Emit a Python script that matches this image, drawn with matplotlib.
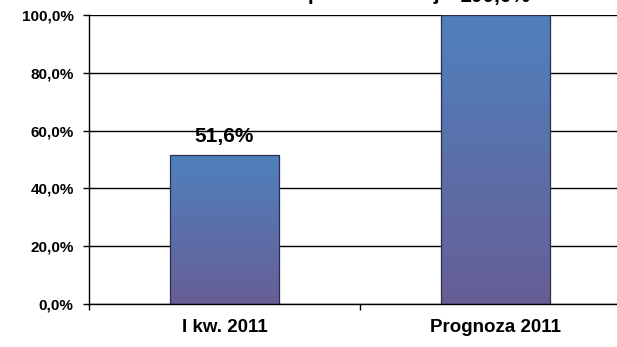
import matplotlib

matplotlib.use("Agg")

import matplotlib.pyplot as plt
import numpy as np
from matplotlib.colors import LinearSegmentedColormap

plt.rcParams["font.family"] = ["Liberation Sans", "DejaVu Sans"]
plt.rcParams["font.weight"] = "bold"

categories = ["I kw. 2011", "Prognoza 2011"]
values = [51.6, 100.0]
value_labels = ["51,6%", "100,0%"]
y_ticks = [0, 20, 40, 60, 80, 100]
y_tick_labels = ["0,0%", "20,0%", "40,0%", "60,0%", "80,0%", "100,0%"]
title = "Stopień realizacji"

TOP_COLOR = "#4F81BD"
BOTTOM_COLOR = "#675E96"
EDGE_COLOR = "#2B2F4E"

fig = plt.figure(figsize=(6.17, 3.47), dpi=100)
ax = fig.add_axes([89 / 617, 43 / 347, 542 / 617, 289 / 347])

x = np.arange(len(categories))
bars = ax.bar(x, values, width=0.40, color="none", edgecolor=EDGE_COLOR, linewidth=0.9, zorder=3)

cmap = LinearSegmentedColormap.from_list("bar_grad", [BOTTOM_COLOR, TOP_COLOR])
gradient = np.linspace(0, 1, 256).reshape(-1, 1)
for bar in bars:
    x0 = bar.get_x()
    x1 = x0 + bar.get_width()
    h = bar.get_height()
    im = ax.imshow(gradient, cmap=cmap, origin="lower", aspect="auto",
                   extent=[x0, x1, 0, h], zorder=2)
    im.set_clip_path(bar)

for xi, v, lab in zip(x, values, value_labels):
    ax.annotate(lab, (xi, v), xytext=(0, 6.5), textcoords="offset points",
                ha="center", va="bottom", fontsize=15, fontweight="bold")

ax.set_xlim(-0.5, 1.5)
ax.set_ylim(0, 100)

ax.set_yticks(y_ticks)
ax.set_yticklabels(y_tick_labels)
ax.tick_params(axis="y", direction="out", length=4, width=1, pad=7, labelsize=11)

ax.set_xticks([-0.5, 0.5, 1.5])
ax.set_xticklabels([])
ax.tick_params(axis="x", which="major", direction="out", length=4, width=1)
ax.set_xticks(x, minor=True)
ax.set_xticklabels(categories, minor=True)
ax.tick_params(axis="x", which="minor", length=0, pad=11, labelsize=13.5)

ax.yaxis.grid(True, color="black", linewidth=1)
ax.set_axisbelow(True)
for side in ["top", "right"]:
    ax.spines[side].set_visible(False)
for side in ["left", "bottom"]:
    ax.spines[side].set_color("black")
    ax.spines[side].set_linewidth(1)

# the chart is cropped at the top: title sits above the canvas, only descenders show
fig.text(360 / 617, 1 - 0.5 / 347, title, ha="center", va="baseline",
         fontsize=15, fontweight="bold")

fig.savefig("out.png", dpi=100)
